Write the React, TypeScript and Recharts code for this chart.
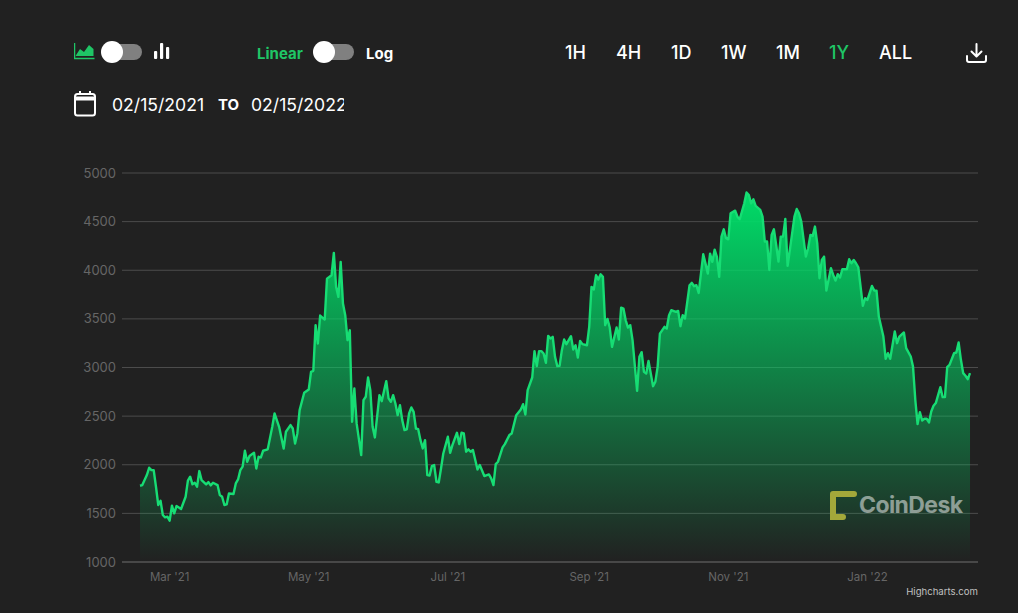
import { AreaChart, Area, XAxis, YAxis, CartesianGrid } from 'recharts';

// Days since the first visible data point (mid Feb 2021)
const days = [
  0, 1, 3, 4, 5, 6, 7, 8, 9, 10, 11, 12, 13, 14, 15, 16, 18, 20, 21, 22, 23, 24, 25, 26, 27, 29, 30, 31, 32, 34, 35, 36, 37, 38, 39, 41, 42, 43, 44, 45,
  46, 47, 48, 50, 51, 52, 53, 54, 56, 58, 59, 61, 63, 64, 66, 67, 68, 69, 70, 72, 74, 75, 76, 77, 78, 79, 81, 82, 84, 85, 86, 87, 88, 89, 90, 91, 92, 93, 94, 95,
  97, 98, 99, 100, 101, 102, 103, 105, 106, 108, 109, 110, 111, 112, 113, 114, 115, 116, 117, 118, 119, 120, 121, 122, 123, 124, 125, 126, 127,
  128, 129, 130, 131, 132, 133, 135, 136, 137, 139, 140, 141, 142, 143, 144, 145, 146, 148, 149, 151, 153, 154, 155, 156, 157, 159, 160, 162, 163, 165, 167, 168, 169, 170, 172,
  173, 174, 175, 176, 177, 178, 179, 180, 181, 182, 183, 184, 185, 186, 187, 189, 190, 191, 192, 193, 194, 196, 197, 198, 199, 200, 201, 202, 203, 204, 205, 206, 207, 209, 210,
  211, 212, 213, 214, 215, 216, 218, 219, 220, 221, 222, 223, 225, 226, 227, 228, 230, 231, 232, 233, 235, 236, 237, 238, 239, 241, 242, 243, 244, 245, 247, 248, 249, 250, 251, 252, 253, 254,
  255, 256, 257, 258, 259, 261, 262, 263, 265, 266, 267, 268, 269, 270, 272, 273, 274, 275, 276, 277, 278, 279, 280, 281, 282, 283, 284, 285, 287, 288, 289, 290, 292, 293, 294, 295, 296, 297, 298, 299, 300, 301,
  303, 304, 305, 306, 307, 308, 310, 311, 312, 313, 314, 315, 317, 318, 319, 321, 322, 323, 324, 326, 327, 328, 329, 331, 332, 333, 335, 336, 338, 339, 340, 341, 342, 343, 344, 345, 346, 347, 348, 349,
  351, 352, 353, 354, 355, 357, 358, 359, 360, 361, 362, 363, 364,
];

const prices = [
  1784, 1791, 1894, 1969, 1945, 1945, 1774, 1586, 1630, 1483, 1459, 1466, 1425, 1579, 1500, 1575, 1545, 1671, 1836, 1877, 1798, 1815, 1774, 1935, 1842, 1798, 1822, 1788, 1815, 1791, 1688, 1671, 1586, 1592, 1705, 1699, 1808, 1849, 1945, 1980,
  2144, 2031, 2089, 2123, 1962, 2082, 2075, 2144, 2158, 2390, 2527, 2390, 2167, 2339, 2408, 2373, 2219, 2322, 2562, 2740, 2774, 2955, 2966, 3435, 3247, 3534, 3493, 3914, 3949, 4178, 3829, 3726, 4086, 3658, 3538, 3281, 3384, 2442, 2784, 2425,
  2099, 2664, 2699, 2897, 2767, 2390, 2281, 2716, 2654, 2860, 2682, 2647, 2716, 2630, 2510, 2613, 2459, 2356, 2363, 2527, 2589, 2544, 2373, 2366, 2253, 2168, 2253, 1894, 1890,
  1986, 1997, 1825, 1818, 1962, 2116, 2288, 2123, 2202, 2329, 2212, 2329, 2322, 2134, 2158, 2134, 2151, 1952, 1997, 1884, 1901, 1860, 1791, 2007, 2031, 2178, 2212, 2305, 2322, 2510, 2568, 2623, 2517, 2767, 2897,
  3168, 3014, 3168, 3168, 3144, 3048, 3325, 3298, 3315, 3110, 3014, 3017, 3178, 3288, 3240, 3322, 3185, 3229, 3103, 3274, 3240, 3229, 3418, 3829, 3801, 3949, 3904, 3959, 3932, 3435, 3500, 3411, 3212, 3411, 3288,
  3616, 3606, 3486, 3411, 3435, 3281, 2760, 3110, 3158, 2955, 2938, 3068, 2808, 2853, 3007, 3349, 3418, 3401, 3538, 3589, 3572, 3582, 3425, 3538, 3503, 3846, 3870, 3836, 3846, 3767, 4164, 4068, 3966, 4171, 4086, 4212, 4137, 3932,
  4346, 4421, 4329, 4318, 4586, 4613, 4551, 4524, 4688, 4800, 4774, 4688, 4729, 4661, 4620, 4551, 4295, 4295, 4003, 4363, 4421, 4260, 4089, 4346, 4346, 4527, 4045, 4209, 4551, 4630, 4586, 4500, 4140, 4226, 4363, 4353, 4449, 4277, 3918, 4106, 4140, 3791,
  4021, 3952, 3894, 3959, 3925, 4010, 4010, 4113, 4072, 4106, 4072, 4031, 3634, 3712, 3695, 3839, 3791, 3791, 3524, 3318, 3089, 3147, 3089, 3370, 3250, 3318, 3360, 3199, 3113, 3010, 2668, 2418, 2541, 2455, 2473, 2473, 2435, 2548, 2606, 2634,
  2798, 2695, 2695, 3003, 3027, 3147, 3154, 3257, 3079, 2942, 2915, 2880, 2942,
];

const yTicks = [1000, 1500, 2000, 2500, 3000, 3500, 4000, 4500, 5000];
const xTicks = [13, 74, 135, 197, 258, 319];
const xLabels = ["Mar '21", "May '21", "Jul '21", "Sep '21", "Nov '21", "Jan '22"];
const ranges = [
  { label: '1H', left: 565 },
  { label: '4H', left: 616 },
  { label: '1D', left: 671 },
  { label: '1W', left: 721 },
  { label: '1M', left: 776 },
  { label: '1Y', left: 829 },
  { label: 'ALL', left: 879 },
];

const chartData = days.map((day, i) => ({ day, price: prices[i] }));

const GREEN = '#1fc566';
const FONT = 'Inter, "Liberation Sans", sans-serif';

function Label({ left, top, color = '#fff', size = 18, weight = 500, width, children }: any) {
  return (
    <div
      style={{
        position: 'absolute',
        left,
        top,
        color,
        fontSize: size,
        fontWeight: weight,
        lineHeight: '22px',
        whiteSpace: 'nowrap',
        width,
        overflow: width ? 'hidden' : undefined,
      }}
    >
      {children}
    </div>
  );
}

function Toggle({ left }: { left: number }) {
  return (
    <>
      <div style={{ position: 'absolute', left, top: 44, width: 40, height: 16, borderRadius: 8, background: '#808080' }} />
      <div style={{ position: 'absolute', left: left - 1, top: 41, width: 22, height: 22, borderRadius: 11, background: '#fff' }} />
    </>
  );
}

export default function App() {
  return (
    <div
      style={{
        position: 'absolute',
        left: 0,
        top: 0,
        width: 1018,
        height: 613,
        background: '#212121',
        fontFamily: FONT,
        overflow: 'hidden',
      }}
    >
      {/* area icon */}
      <svg style={{ position: 'absolute', left: 74, top: 42 }} width="21" height="18" viewBox="0 0 21 18">
        <path d="M1.5 14 L6 7 L10 10 L15 3 L19.5 7 L19.5 14 Z" fill={GREEN} />
        <path d="M0.5 1 V16.5 H20.5" stroke={GREEN} strokeWidth="1.5" fill="none" />
      </svg>
      <Toggle left={102} />
      {/* bars icon */}
      <svg style={{ position: 'absolute', left: 153, top: 42 }} width="17" height="18" viewBox="0 0 17 18">
        <rect x="1" y="9" width="3.2" height="8" rx="1" fill="#fff" />
        <rect x="7" y="1" width="3.2" height="16" rx="1" fill="#fff" />
        <rect x="13" y="5" width="3.2" height="12" rx="1" fill="#fff" />
      </svg>

      <Label left={257} top={43} color={GREEN} size={15} weight={700}>Linear</Label>
      <Toggle left={314} />
      <Label left={366} top={43} size={15} weight={700}>Log</Label>

      {ranges.map((r) => (
        <Label key={r.label} left={r.left} top={42} color={r.label === '1Y' ? GREEN : '#fff'}>
          {r.label}
        </Label>
      ))}

      {/* download icon */}
      <svg style={{ position: 'absolute', left: 965, top: 42 }} width="23" height="22" viewBox="0 0 23 22" fill="none" stroke="#fff" strokeWidth="2" strokeLinecap="round" strokeLinejoin="round">
        <path d="M11.5 2 V14 M6.5 9.5 L11.5 14.5 L16.5 9.5" />
        <path d="M2 14 V18 Q2 20 4 20 H19 Q21 20 21 18 V14" />
      </svg>

      {/* calendar icon */}
      <svg style={{ position: 'absolute', left: 73, top: 90 }} width="24" height="27" viewBox="0 0 24 27" fill="none" stroke="#fff" strokeWidth="2">
        <rect x="2" y="4" width="20" height="21.5" rx="2.5" />
        <path d="M2 8.5 H22" strokeWidth="4" />
        <path d="M7 1 V5 M17 1 V5" />
      </svg>

      <Label left={112} top={94} size={17.6} weight={400}>02/15/2021</Label>
      <Label left={218} top={94} size={15} weight={700}>TO</Label>
      <Label left={251} top={94} size={17.6} weight={400} width={93}>02/15/2022</Label>

      <div style={{ position: 'absolute', left: 0, top: 0 }}>
        <AreaChart
          width={1018}
          height={613}
          data={chartData}
          margin={{ top: 173, right: 40, bottom: 21, left: 72 }}
        >
          <defs>
            <linearGradient id="priceFill" x1="0" y1="0" x2="0" y2="1">
              <stop offset="0%" stopColor="#00dc68" stopOpacity={1} />
              <stop offset="100%" stopColor="#00dc68" stopOpacity={0} />
            </linearGradient>
          </defs>
          <CartesianGrid vertical={false} stroke="#4c4c4c" />
          <XAxis
            dataKey="day"
            type="number"
            domain={[-7.9, 367.5]}
            ticks={xTicks}
            tickFormatter={(v) => xLabels[xTicks.indexOf(v)]}
            height={30}
            stroke="#5a5a5a"
            tickLine={false}
            tick={{ fill: '#666', fontSize: 11.5, fontFamily: FONT }}
            tickMargin={5}
            interval={0}
          />
          <YAxis
            domain={[1000, 5000]}
            ticks={yTicks}
            width={50}
            axisLine={false}
            tickLine={false}
            tick={{ fill: '#666', fontSize: 13, fontFamily: FONT }}
            tickMargin={0}
            interval={0}
          />
          <Area
            type="linear"
            dataKey="price"
            stroke="#17dd74"
            strokeWidth={2.4}
            strokeLinejoin="round"
            fill="url(#priceFill)"
            fillOpacity={1}
            dot={false}
            activeDot={false}
            isAnimationActive={false}
          />
        </AreaChart>
      </div>

      {/* watermark */}
      <svg style={{ position: 'absolute', left: 829, top: 490 }} width="28" height="32" viewBox="0 0 28 32" fill="none">
        <path d="M4 4 H25 M4 4 V27 H14" stroke="#a3a83a" strokeWidth="6" strokeLinecap="round" />
      </svg>
      <div
        style={{
          position: 'absolute',
          left: 859,
          top: 490,
          color: 'rgba(255,255,255,0.5)',
          fontSize: 23,
          fontWeight: 700,
          lineHeight: '30px',
          letterSpacing: -0.6,
        }}
      >
        CoinDesk
      </div>

      <div style={{ position: 'absolute', right: 40, top: 585, color: '#c0c0c0', fontSize: 9.6, lineHeight: '14px' }}>
        Highcharts.com
      </div>
    </div>
  );
}
